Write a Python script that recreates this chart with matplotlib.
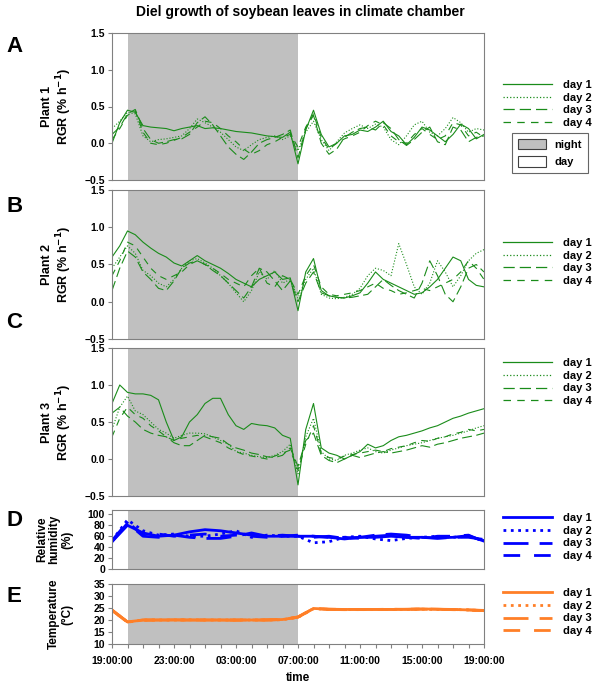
import numpy as np
import matplotlib.pyplot as plt
from matplotlib.lines import Line2D
from matplotlib.patches import Patch

plt.rcParams['font.family'] = ['Liberation Sans', 'DejaVu Sans']
plt.rcParams['font.weight'] = 'bold'

# time in hours after 19:00
t_half = np.arange(0, 24.5, 0.5)
t_hour = np.arange(0, 25, 1)
night = (1, 12)
tick_hours = [0, 4, 8, 12, 16, 20, 24]
tick_labels = ['19:00:00', '23:00:00', '03:00:00', '07:00:00', '11:00:00', '15:00:00', '19:00:00']
days = ['day 1', 'day 2', 'day 3', 'day 4']

# RGR (% h-1), half-hourly
plant1 = [
    [0.00, 0.28, 0.45, 0.42, 0.24, 0.22, 0.21, 0.20,
     0.17, 0.20, 0.22, 0.24, 0.20, 0.21, 0.20, 0.18,
     0.16, 0.15, 0.14, 0.12, 0.10, 0.09, 0.08, 0.15,
     -0.28, 0.18, 0.45, 0.12, -0.05, 0.00, 0.10, 0.12,
     0.18, 0.16, 0.22, 0.30, 0.16, 0.10, -0.02, 0.08,
     0.22, 0.18, 0.10, 0.02, 0.12, 0.26, 0.20, 0.06, 0.12],
    [0.20, 0.30, 0.42, 0.40, 0.10, 0.02, 0.05, 0.06,
     0.08, 0.10, 0.20, 0.33, 0.28, 0.22, 0.15, 0.05,
     -0.05, -0.10, -0.02, 0.05, 0.08, 0.10, 0.05, 0.10,
     -0.10, 0.15, 0.30, 0.05, -0.10, 0.02, 0.14, 0.20,
     0.25, 0.20, 0.26, 0.22, 0.05, -0.02, 0.10, 0.25,
     0.30, 0.15, 0.10, 0.20, 0.35, 0.28, 0.15, 0.20, 0.18],
    [0.12, 0.22, 0.40, 0.46, 0.20, 0.05, 0.00, 0.02,
     0.05, 0.06, 0.12, 0.28, 0.36, 0.25, 0.10, -0.05,
     -0.15, -0.22, -0.12, 0.00, 0.05, 0.08, 0.12, 0.18,
     -0.20, 0.20, 0.38, 0.00, -0.15, -0.08, 0.08, 0.15,
     0.20, 0.22, 0.18, 0.28, 0.20, 0.05, -0.03, 0.05,
     0.15, 0.22, 0.02, -0.02, 0.22, 0.18, 0.02, 0.08, 0.10],
    [0.05, 0.20, 0.38, 0.44, 0.15, 0.00, -0.02, 0.00,
     0.04, 0.08, 0.15, 0.22, 0.30, 0.28, 0.20, 0.10,
     0.02, -0.08, -0.15, -0.10, -0.02, 0.02, 0.08, 0.12,
     -0.05, 0.22, 0.40, 0.08, -0.08, 0.00, 0.06, 0.10,
     0.15, 0.24, 0.30, 0.25, 0.10, 0.02, 0.00, 0.12,
     0.20, 0.12, 0.05, 0.10, 0.28, 0.25, 0.10, 0.15, 0.08],
]
plant2 = [
    [0.60, 0.75, 0.95, 0.90, 0.80, 0.72, 0.65, 0.60,
     0.52, 0.48, 0.55, 0.62, 0.55, 0.50, 0.45, 0.38,
     0.30, 0.25, 0.20, 0.30, 0.35, 0.40, 0.30, 0.32,
     -0.12, 0.40, 0.58, 0.15, 0.08, 0.06, 0.05, 0.08,
     0.12, 0.25, 0.40, 0.30, 0.25, 0.20, 0.15, 0.10,
     0.12, 0.20, 0.30, 0.45, 0.60, 0.55, 0.30, 0.22, 0.20],
    [0.45, 0.60, 0.75, 0.65, 0.42, 0.35, 0.25, 0.20,
     0.30, 0.45, 0.55, 0.58, 0.52, 0.45, 0.35, 0.25,
     0.12, 0.00, 0.15, 0.40, 0.30, 0.42, 0.25, 0.30,
     0.05, 0.30, 0.45, 0.10, 0.05, 0.04, 0.06, 0.10,
     0.18, 0.35, 0.45, 0.42, 0.35, 0.78, 0.50, 0.20,
     0.10, 0.25, 0.55, 0.40, 0.20, 0.35, 0.55, 0.65, 0.70],
    [0.15, 0.45, 0.68, 0.60, 0.40, 0.30, 0.18, 0.15,
     0.28, 0.45, 0.52, 0.55, 0.50, 0.42, 0.35, 0.25,
     0.15, 0.05, 0.20, 0.45, 0.40, 0.28, 0.15, 0.28,
     0.00, 0.25, 0.40, 0.12, 0.08, 0.06, 0.05, 0.06,
     0.08, 0.10, 0.20, 0.30, 0.22, 0.15, 0.10, 0.05,
     0.25, 0.55, 0.35, 0.10, 0.00, 0.20, 0.45, 0.50, 0.40],
    [0.35, 0.55, 0.80, 0.75, 0.60, 0.45, 0.35, 0.30,
     0.35, 0.40, 0.50, 0.55, 0.50, 0.45, 0.38, 0.30,
     0.25, 0.20, 0.35, 0.45, 0.25, 0.20, 0.35, 0.30,
     0.10, 0.35, 0.50, 0.20, 0.10, 0.08, 0.10, 0.12,
     0.15, 0.20, 0.25, 0.18, 0.15, 0.10, 0.12, 0.15,
     0.18, 0.15, 0.20, 0.25, 0.30, 0.40, 0.55, 0.45, 0.30],
]
plant3 = [
    [0.75, 1.00, 0.90, 0.88, 0.88, 0.86, 0.80, 0.50,
     0.25, 0.30, 0.50, 0.60, 0.75, 0.82, 0.82, 0.60,
     0.45, 0.40, 0.48, 0.46, 0.45, 0.42, 0.32, 0.28,
     -0.35, 0.40, 0.75, 0.15, 0.08, 0.05, 0.00, 0.05,
     0.10, 0.20, 0.15, 0.18, 0.25, 0.30, 0.32, 0.35,
     0.38, 0.42, 0.45, 0.50, 0.55, 0.58, 0.62, 0.65, 0.68],
    [0.40, 0.70, 0.85, 0.65, 0.60, 0.50, 0.40, 0.35,
     0.28, 0.32, 0.35, 0.35, 0.34, 0.30, 0.25, 0.20,
     0.10, 0.08, 0.05, 0.03, 0.02, 0.05, 0.10, 0.20,
     -0.20, 0.30, 0.55, 0.10, 0.00, -0.02, 0.05, 0.08,
     0.12, 0.15, 0.10, 0.08, 0.12, 0.15, 0.18, 0.20,
     0.22, 0.25, 0.28, 0.30, 0.32, 0.35, 0.38, 0.42, 0.45],
    [0.62, 0.70, 0.58, 0.50, 0.40, 0.35, 0.32, 0.30,
     0.22, 0.18, 0.18, 0.25, 0.32, 0.30, 0.28, 0.20,
     0.15, 0.12, 0.08, 0.06, 0.03, 0.02, 0.05, 0.15,
     -0.10, 0.25, 0.35, 0.05, -0.02, -0.05, 0.00, 0.05,
     0.02, 0.05, 0.08, 0.10, 0.08, 0.10, 0.12, 0.15,
     0.18, 0.16, 0.20, 0.22, 0.25, 0.28, 0.30, 0.32, 0.35],
    [0.30, 0.55, 0.70, 0.60, 0.55, 0.45, 0.38, 0.30,
     0.25, 0.28, 0.30, 0.32, 0.30, 0.26, 0.22, 0.15,
     0.10, 0.06, 0.04, 0.02, 0.00, 0.04, 0.08, 0.12,
     -0.15, 0.20, 0.45, 0.08, 0.02, 0.00, 0.04, 0.06,
     0.08, 0.10, 0.12, 0.10, 0.14, 0.16, 0.18, 0.22,
     0.25, 0.24, 0.28, 0.30, 0.34, 0.36, 0.40, 0.38, 0.40],
]

# relative humidity (%), hourly
humidity = [
    [50, 80, 66, 60, 62, 68, 72, 70, 66, 62, 60, 60, 60, 60, 58, 55, 58, 58, 60, 58, 58, 57, 58, 61, 51],
    [52, 90, 70, 62, 64, 60, 60, 64, 70, 58, 62, 60, 60, 48, 50, 58, 60, 55, 52, 56, 58, 60, 58, 60, 52],
    [50, 84, 60, 58, 62, 58, 56, 56, 60, 66, 60, 62, 60, 58, 60, 56, 58, 62, 64, 62, 58, 56, 58, 58, 54],
    [52, 86, 62, 64, 60, 62, 64, 60, 62, 60, 58, 60, 62, 60, 58, 58, 56, 60, 62, 58, 56, 60, 60, 62, 50],
]

# temperature (degC), hourly
temperature = [
    [24.2, 19.2, 20.0, 20.0, 20.0, 20.0, 20.0, 20.0, 20.0, 20.0, 20.0, 20.2, 21.2,
     24.8, 24.5, 24.4, 24.4, 24.4, 24.4, 24.5, 24.6, 24.5, 24.4, 24.2, 23.9],
    [24.1, 19.1, 20.0, 20.0, 20.0, 20.1, 20.0, 20.0, 20.0, 20.0, 20.0, 20.1, 21.1,
     24.7, 24.4, 24.4, 24.3, 24.4, 24.4, 24.4, 24.5, 24.4, 24.4, 24.2, 23.9],
    [24.0, 19.2, 19.9, 20.0, 20.0, 20.0, 20.0, 20.0, 19.9, 20.0, 20.0, 20.2, 21.2,
     24.8, 24.4, 24.3, 24.4, 24.4, 24.5, 24.4, 24.6, 24.5, 24.3, 24.2, 24.0],
    [24.1, 19.1, 20.0, 20.0, 20.1, 20.0, 20.0, 20.0, 20.0, 20.0, 20.1, 20.2, 21.3,
     24.8, 24.5, 24.4, 24.4, 24.3, 24.4, 24.5, 24.5, 24.4, 24.4, 24.1, 23.9],
]

styles = ['-', ':', (0, (9, 4)), (0, (6, 5))]
green = '#1a8c1a'
blue = '#0000ff'
orange = '#ff7f27'
gray = '#c0c0c0'
frame = '#808080'

W, H = 600, 687
fig = plt.figure(figsize=(W / 100, H / 100), dpi=100)


def add_panel(top, bottom):
    ax = fig.add_axes([112 / W, 1 - bottom / H, 372 / W, (bottom - top) / H])
    ax.axvspan(*night, color=gray, lw=0, zorder=0)
    ax.set_xlim(0, 24)
    for s in ax.spines.values():
        s.set_color(frame)
    ax.tick_params(axis='y', labelsize=7.5, color=frame, length=3, width=0.8, pad=2)
    ax.set_xticks([])
    return ax


def legend_at(color, lw, ycenter):
    handles = [Line2D([], [], color=color, lw=lw, ls=s) for s in styles]
    fig.legend(handles, days, loc='center left', bbox_to_anchor=(503 / W, 1 - ycenter / H),
               frameon=False, fontsize=8, handlelength=4.4, handletextpad=1.0,
               labelspacing=0.25, borderaxespad=0, borderpad=0)


rgr_panels = [(plant1, 33, 180, 'Plant 1', 104), (plant2, 190, 339, 'Plant 2', 262),
              (plant3, 348, 496, 'Plant 3', 382)]
for data, top, bottom, name, leg_y in rgr_panels:
    ax = add_panel(top, bottom)
    for vals, s in zip(data, styles):
        ax.plot(t_half, vals, color=green, lw=0.8, ls=s)
    ax.set_ylim(-0.5, 1.5)
    ax.set_yticks([-0.5, 0.0, 0.5, 1.0, 1.5])
    ax.set_ylabel(name + '\nRGR (% h$^{\\mathbf{-1}}$)', fontsize=9, fontweight='bold', linespacing=1.1)
    ax.yaxis.set_label_coords(-0.102, 0.5)
    legend_at(green, 0.9, leg_y)

ax_d = add_panel(510, 569)
for vals, s in zip(humidity, styles):
    ax_d.plot(t_hour, vals, color=blue, lw=2, ls=s)
ax_d.set_ylim(0, 108)
ax_d.set_yticks([0, 20, 40, 60, 80, 100])
ax_d.set_ylabel('Relative\nhumidity\n(%)', fontsize=8.5, fontweight='bold', linespacing=1.05)
ax_d.yaxis.set_label_coords(-0.105, 0.5)
legend_at(blue, 2, 537)

ax_e = add_panel(584, 644)
for vals, s in zip(temperature, styles):
    ax_e.plot(t_hour, vals, color=orange, lw=2, ls=s)
ax_e.set_ylim(10, 35)
ax_e.set_yticks([10, 15, 20, 25, 30, 35])
ax_e.set_ylabel('Temperature\n(°C)', fontsize=8.5, fontweight='bold', linespacing=1.1)
ax_e.yaxis.set_label_coords(-0.105, 0.5)
ax_e.set_xticks(tick_hours)
ax_e.set_xticklabels(tick_labels, fontsize=7.5)
ax_e.set_xticks(t_hour, minor=True)
ax_e.tick_params(axis='x', which='both', color=frame, length=3, width=0.8, pad=6)
ax_e.set_xlabel('time', fontsize=8.5, fontweight='bold', labelpad=4)
legend_at(orange, 2, 612)

# night / day box
fig.legend([Patch(facecolor=gray, edgecolor='#404040', lw=0.8),
            Patch(facecolor='white', edgecolor='#404040', lw=0.8)],
           ['night', 'day'], loc='center', bbox_to_anchor=(550 / W, 1 - 153 / H),
           fontsize=8, frameon=True, fancybox=False, edgecolor='#404040',
           handlelength=2.5, handleheight=1.1, labelspacing=0.6, borderpad=0.5,
           handletextpad=0.8).get_frame().set_linewidth(0.8)

for letter, y in zip('ABCDE', [47, 207, 323, 521, 597]):
    fig.text(6 / W, 1 - y / H, letter, fontsize=16, fontweight='bold', va='center', ha='left')

fig.text(0.5, 1 - 12 / H, 'Diel growth of soybean leaves in climate chamber',
         fontsize=10, fontweight='bold', ha='center', va='center')

fig.savefig('out.png', dpi=100)
